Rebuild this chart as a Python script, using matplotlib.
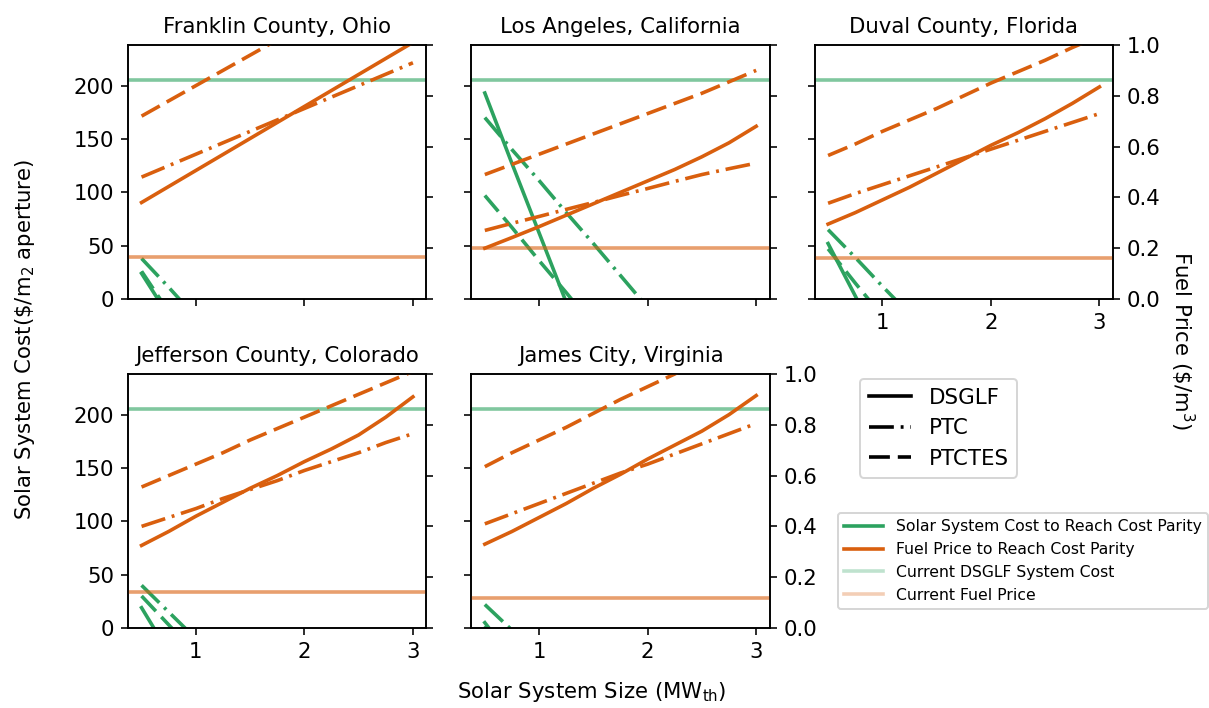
import matplotlib.pyplot as plt
from matplotlib.lines import Line2D

# solar system size (MWth) at which each scenario was evaluated
size_mw = [0.5, 0.75, 1.0, 1.25, 1.5, 1.75, 2.0, 2.25, 2.5, 2.75, 3.0]

sites = ['Franklin County, Ohio', 'Los Angeles, California', 'Duval County, Florida',
         'Jefferson County, Colorado', 'James City, Virginia']

# solar system cost to reach cost parity ($/m2 aperture), one row per site
cost_dsglf = [[24, -16, -56, -96, -136, -176, -216, -256, -296, -336, -376],
              [193, 127, 62, -3, -68, -134, -199, -265, -330, -395, -460],
              [52, 3, -46, -96, -145, -194, -243, -292, -342, -391, -440],
              [19, -23, -66, -108, -151, -193, -236, -278, -321, -363, -406],
              [5, -28, -60, -93, -125, -158, -190, -223, -255, -288, -320]]
cost_ptc = [[38, 11, -17, -44, -72, -99, -127, -154, -182, -209, -237],
            [170, 140, 111, 81, 52, 22, -8, -38, -67, -97, -126],
            [65, 39, 12, -14, -40, -67, -93, -119, -145, -172, -198],
            [40, 15, -10, -35, -60, -85, -110, -135, -160, -185, -210],
            [22, -2, -26, -50, -74, -98, -122, -146, -170, -194, -218]]
cost_ptctes = [[26, -12, -50, -88, -126, -164, -202, -240, -278, -316, -354],
               [97, 67, 36, 6, -25, -55, -86, -116, -147, -177, -208],
               [47, 15, -16, -48, -80, -111, -143, -175, -207, -238, -270],
               [30, 3, -24, -50, -77, -104, -131, -157, -184, -211, -238],
               [2, -29, -60, -91, -122, -153, -184, -215, -246, -277, -308]]

# fuel price to reach cost parity ($/m3), one row per site
fuel_dsglf = [[0.38, 0.443, 0.506, 0.569, 0.632, 0.695, 0.758, 0.821, 0.884, 0.947, 1.01],
              [0.20, 0.242, 0.285, 0.33, 0.375, 0.42, 0.465, 0.51, 0.56, 0.615, 0.68],
              [0.295, 0.34, 0.39, 0.44, 0.495, 0.55, 0.605, 0.655, 0.71, 0.77, 0.835],
              [0.325, 0.38, 0.44, 0.495, 0.55, 0.60, 0.655, 0.705, 0.76, 0.83, 0.91],
              [0.33, 0.38, 0.435, 0.49, 0.55, 0.605, 0.665, 0.72, 0.775, 0.84, 0.915]]
fuel_ptc = [[0.48, 0.525, 0.57, 0.615, 0.66, 0.705, 0.75, 0.795, 0.84, 0.885, 0.93],
            [0.27, 0.298, 0.325, 0.353, 0.38, 0.408, 0.435, 0.463, 0.49, 0.513, 0.535],
            [0.377, 0.415, 0.45, 0.485, 0.52, 0.555, 0.59, 0.625, 0.66, 0.695, 0.73],
            [0.40, 0.435, 0.47, 0.51, 0.545, 0.58, 0.62, 0.655, 0.69, 0.73, 0.765],
            [0.41, 0.45, 0.49, 0.53, 0.57, 0.61, 0.645, 0.685, 0.725, 0.765, 0.805]]
fuel_ptctes = [[0.72, 0.78, 0.84, 0.90, 0.96, 1.02, 1.08, 1.14, 1.20, 1.26, 1.31],
               [0.49, 0.53, 0.57, 0.61, 0.65, 0.69, 0.73, 0.77, 0.81, 0.855, 0.90],
               [0.565, 0.61, 0.66, 0.705, 0.75, 0.80, 0.85, 0.895, 0.94, 0.99, 1.035],
               [0.555, 0.60, 0.645, 0.69, 0.74, 0.785, 0.83, 0.875, 0.92, 0.965, 1.01],
               [0.635, 0.69, 0.74, 0.79, 0.845, 0.90, 0.95, 1.00, 1.055, 1.11, 1.16]]

current_system_cost = [205, 205, 205, 205, 205]
current_fuel_price = [0.164, 0.20, 0.16, 0.14, 0.12]

green = '#2ca25f'
orange = '#d95f0e'
lw = 1.8
styles = ['-', (0, (6.9, 1.9, 0.8, 1.9)), (0, (5.8, 2.2))]
fs = 10.6

fig, axs = plt.subplots(2, 3, figsize=(1209 / 144, 708 / 144), dpi=144)
fig.subplots_adjust(left=128 / 1209, right=1113 / 1209, bottom=80 / 708,
                    top=1 - 45 / 708, wspace=0.15, hspace=0.295)
axs[1, 2].axis('off')

for i, site in enumerate(sites):
    ax = axs.flat[i]
    row, col = divmod(i, 3)

    for vals, ls in zip([cost_dsglf[i], cost_ptc[i], cost_ptctes[i]], styles):
        ax.plot(size_mw, vals, color=green, ls=ls, lw=lw)
    ax.axhline(current_system_cost[i], color=green, alpha=0.6, lw=lw)
    ax.set_ylim(0, 238)
    ax.set_xticks([1, 2, 3])
    ax.set_title(site, fontsize=fs)
    ax.tick_params(labelsize=fs)

    ax2 = ax.twinx()
    for vals, ls in zip([fuel_dsglf[i], fuel_ptc[i], fuel_ptctes[i]], styles):
        ax2.plot(size_mw, vals, color=orange, ls=ls, lw=lw)
    ax2.axhline(current_fuel_price[i], color=orange, alpha=0.6, lw=lw)
    ax2.set_ylim(0, 1.0)
    ax2.tick_params(labelsize=fs)

    if col != 0:
        ax.tick_params(labelleft=False)
    if not (col == 2 or i == 4):
        ax2.tick_params(labelright=False)
    if i in (0, 1):
        ax.tick_params(labelbottom=False)

fig.text(25 / 1209, 1 - 339 / 708, 'Solar System Cost(\\$/m$_2$ aperture)',
         rotation=90, ha='center', va='center', fontsize=fs)
fig.text(1182 / 1209, 1 - 340 / 708, 'Fuel Price (\\$/m$^3$)',
         rotation=270, ha='center', va='center', fontsize=fs)
fig.text(592 / 1209, 1 - 692 / 708, 'Solar System Size (MW$_{\\mathrm{th}}$)',
         ha='center', va='center', fontsize=fs)

style_handles = [Line2D([], [], color='k', ls=ls, lw=lw) for ls in styles]
fig.legend(style_handles, ['DSGLF', 'PTC', 'PTCTES'], loc='upper left',
           bbox_to_anchor=(860 / 1209, 1 - 379 / 708), borderaxespad=0, fontsize=10.7)

color_handles = [Line2D([], [], color=green, lw=lw), Line2D([], [], color=orange, lw=lw),
                 Line2D([], [], color=green, alpha=0.3, lw=lw),
                 Line2D([], [], color=orange, alpha=0.3, lw=lw)]
fig.legend(color_handles, ['Solar System Cost to Reach Cost Parity', 'Fuel Price to Reach Cost Parity',
                           'Current DSGLF System Cost', 'Current Fuel Price'],
           loc='upper left', bbox_to_anchor=(838 / 1209, 1 - 513 / 708), borderaxespad=0,
           fontsize=7.8, handlelength=2.5)

fig.savefig('out.png', dpi=144)
